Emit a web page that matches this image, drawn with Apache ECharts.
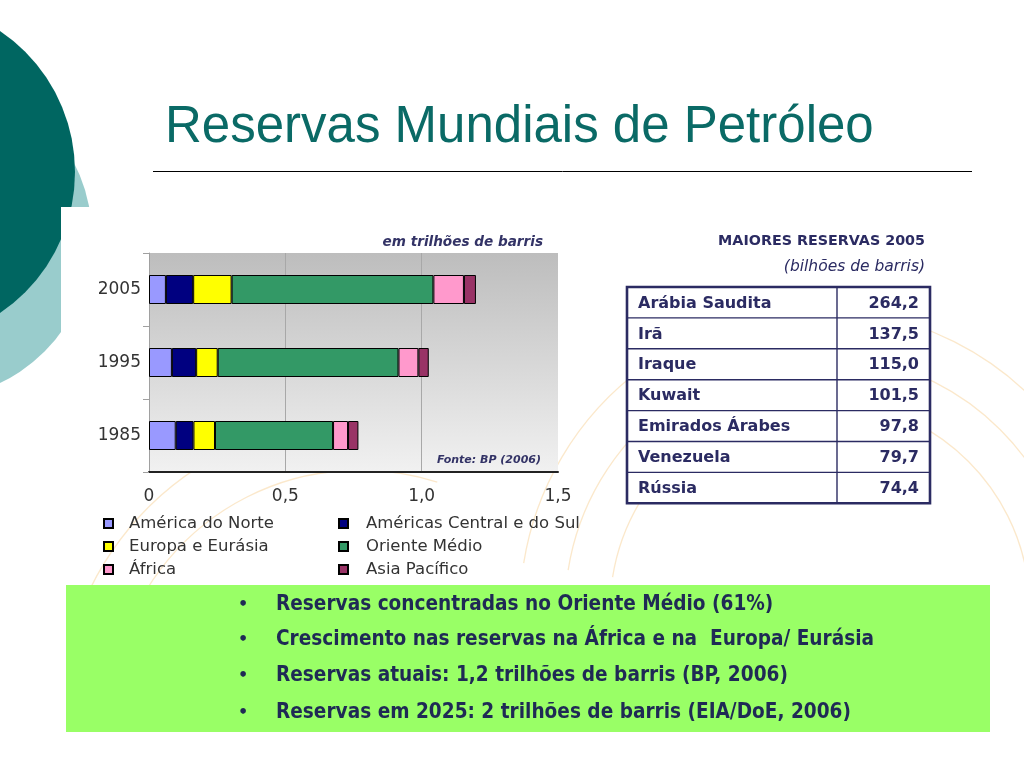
<!DOCTYPE html>
<html>
<head>
<meta charset="utf-8">
<script src="https://cdn.jsdelivr.net/npm/echarts@6/dist/echarts.min.js"></script>
<style>
html,body{margin:0;padding:0;background:#fff;}
#main{width:1024px;height:768px;}
</style>
</head>
<body>
<div id="main"></div>
<script>
// ---- data ----
const years = ['1985', '1995', '2005'];
const regions = ['América do Norte', 'Américas Central e do Sul', 'Europa e Eurásia', 'Oriente Médio', 'África', 'Asia Pacífico'];
// trilhões de barris, per year [1985, 1995, 2005]
const americaNorte = [0.098, 0.084, 0.062];
const americasCentralSul = [0.065, 0.089, 0.100];
const europaEurasia = [0.079, 0.079, 0.141];
const orienteMedio = [0.433, 0.663, 0.740];
const africa = [0.055, 0.073, 0.112];
const asiaPacifico = [0.038, 0.038, 0.044];
const xTicks = [0, 0.5, 1.0, 1.5];
const tableCountries = ['Arábia Saudita', 'Irã', 'Iraque', 'Kuwait', 'Emirados Árabes', 'Venezuela', 'Rússia'];
const tableValues = [264.2, 137.5, 115.0, 101.5, 97.8, 79.7, 74.4];
const bullets = [
  'Reservas concentradas no Oriente Médio (61%)',
  'Crescimento nas reservas na África e na  Europa/ Eurásia',
  'Reservas atuais: 1,2 trilhões de barris (BP, 2006)',
  'Reservas em 2025: 2 trilhões de barris (EIA/DoE, 2006)'
];

const seriesValues = [americaNorte, americasCentralSul, europaEurasia, orienteMedio, africa, asiaPacifico];
const palette = ['#9999FF', '#000080', '#FFFF00', '#339966', '#FF99CC', '#993366'];

const navy = '#2b2b62';
const graphics = [];

// decorative faint arcs
const arcStroke = 'rgba(246,205,140,0.45)';
[[820, 610, 300], [820, 610, 255], [820, 610, 210]].forEach(a => {
  graphics.push({type: 'arc', z: -10, shape: {cx: a[0], cy: a[1], r: a[2], startAngle: Math.PI * 1.05, endAngle: Math.PI * 1.95}, style: {stroke: arcStroke, fill: null, lineWidth: 1.3}});
});
[[360, 720, 300], [360, 720, 250]].forEach(a => {
  graphics.push({type: 'arc', z: -10, shape: {cx: a[0], cy: a[1], r: a[2], startAngle: Math.PI * 1.1, endAngle: Math.PI * 1.6}, style: {stroke: arcStroke, fill: null, lineWidth: 1.3}});
});

// left decoration
graphics.push({type: 'circle', z: -5, shape: {cx: -70, cy: 237, r: 162}, style: {fill: '#99CCCC'}});
graphics.push({type: 'circle', z: -4, shape: {cx: -95, cy: 172, r: 170}, style: {fill: '#006661'}});
graphics.push({type: 'rect', z: -3, shape: {x: 61, y: 207, width: 35, height: 260}, style: {fill: '#ffffff'}});

// title
graphics.push({type: 'text', x: 165, y: 128, style: {text: 'Reservas Mundiais de Petróleo', font: '51px "Liberation Sans", Arial, sans-serif', fill: '#0a6a66', align: 'left', verticalAlign: 'middle'}});
graphics.push({type: 'line', shape: {x1: 153, y1: 171.5, x2: 972, y2: 171.5}, style: {stroke: '#000', lineWidth: 1}});

// chart annotations
graphics.push({type: 'text', x: 543, y: 242, style: {text: 'em trilhões de barris', font: 'italic bold 13.6px "DejaVu Sans", sans-serif', fill: '#333366', align: 'right', verticalAlign: 'middle'}});
graphics.push({type: 'text', x: 541, y: 460, z: 10, style: {text: 'Fonte: BP (2006)', font: 'italic bold 11px "DejaVu Sans", sans-serif', fill: '#333366', align: 'right', verticalAlign: 'middle'}});

// table
graphics.push({type: 'text', x: 925, y: 241, style: {text: 'MAIORES RESERVAS 2005', font: 'bold 14.3px "DejaVu Sans", sans-serif', fill: navy, align: 'right', verticalAlign: 'middle'}});
graphics.push({type: 'text', x: 925, y: 267, style: {text: '(bilhões de barris)', font: 'italic 15.5px "DejaVu Sans", sans-serif', fill: navy, align: 'right', verticalAlign: 'middle'}});
const tX0 = 627, tX1 = 930, tXc = 837, tY0 = 287, rowH = 30.9;
graphics.push({type: 'rect', shape: {x: tX0, y: tY0, width: tX1 - tX0, height: rowH * tableCountries.length}, style: {fill: '#fff', stroke: navy, lineWidth: 2.6}});
graphics.push({type: 'line', shape: {x1: tXc, y1: tY0, x2: tXc, y2: tY0 + rowH * tableCountries.length}, style: {stroke: navy, lineWidth: 1.4}});
tableCountries.forEach((c, i) => {
  if (i > 0) graphics.push({type: 'line', shape: {x1: tX0, y1: tY0 + rowH * i, x2: tX1, y2: tY0 + rowH * i}, style: {stroke: navy, lineWidth: 1.4}});
  const cy = tY0 + rowH * i + rowH / 2 + 1;
  graphics.push({type: 'text', x: 638, y: cy, style: {text: c, font: 'bold 16px "DejaVu Sans", sans-serif', fill: navy, align: 'left', verticalAlign: 'middle'}});
  graphics.push({type: 'text', x: 919, y: cy, style: {text: tableValues[i].toFixed(1).replace('.', ','), font: 'bold 16px "DejaVu Sans", sans-serif', fill: navy, align: 'right', verticalAlign: 'middle'}});
});

// green box
graphics.push({type: 'rect', shape: {x: 66, y: 585, width: 924, height: 147}, style: {fill: '#99FF66'}});
const bulletY = [605, 640, 676, 713];
bullets.forEach((b, i) => {
  graphics.push({type: 'text', x: 243, y: bulletY[i], style: {text: '•', font: 'bold 16px "DejaVu Sans", sans-serif', fill: '#1f2a55', align: 'center', verticalAlign: 'middle'}});
  graphics.push({type: 'text', x: 276, y: bulletY[i], style: {text: b, font: 'bold 20.6px "DejaVu Sans Condensed", "DejaVu Sans", sans-serif', fill: '#1f2a55', align: 'left', verticalAlign: 'middle'}});
});

const chart = echarts.init(document.getElementById('main'));
const option = {
  animation: false,
  backgroundColor: '#ffffff',
  grid: {
    left: 149, top: 253, width: 409, height: 219,
    show: true, borderWidth: 0,
    backgroundColor: {type: 'linear', x: 0, y: 0, x2: 0, y2: 1, colorStops: [{offset: 0, color: '#bdbdbd'}, {offset: 1, color: '#f1f1f1'}]}
  },
  legend: [
    {
      data: [regions[0], regions[2], regions[4]],
      orient: 'vertical', left: 98, top: 510, itemWidth: 9, itemHeight: 9, itemGap: 6, icon: 'rect',
      textStyle: {fontFamily: 'DejaVu Sans', fontSize: 16.5, color: '#333', lineHeight: 16, padding: [0, 0, 0, 11]}
    },
    {
      data: [regions[1], regions[3], regions[5]],
      orient: 'vertical', left: 333, top: 510, itemWidth: 9, itemHeight: 9, itemGap: 6, icon: 'rect',
      textStyle: {fontFamily: 'DejaVu Sans', fontSize: 16.5, color: '#333', lineHeight: 16, padding: [0, 0, 0, 13]}
    }
  ],
  xAxis: {
    type: 'value', min: xTicks[0], max: xTicks[xTicks.length - 1], interval: 0.5,
    axisLine: {show: true, lineStyle: {color: '#222', width: 2}},
    axisTick: {show: false},
    splitLine: {show: true, lineStyle: {color: ['#a8a8a8', '#a8a8a8', '#a8a8a8', 'rgba(0,0,0,0)'], width: 1}},
    axisLabel: {
      margin: 16, color: '#333', fontFamily: 'DejaVu Sans', fontSize: 17,
      formatter: v => v === 0 ? '0' : v.toFixed(1).replace('.', ',')
    }
  },
  yAxis: {
    type: 'category', data: years,
    axisLine: {show: true, lineStyle: {color: '#a0a0a0', width: 1}},
    axisTick: {show: true, length: 6, lineStyle: {color: '#a0a0a0'}},
    axisLabel: {margin: 8, color: '#333', fontFamily: 'DejaVu Sans', fontSize: 17}
  },
  series: regions.map((r, i) => ({
    name: r, type: 'bar', stack: 'total', barWidth: 29,
    data: seriesValues[i],
    itemStyle: {color: palette[i], borderColor: '#000', borderWidth: 1},
    emphasis: {disabled: true}
  })),
  graphic: graphics
};
chart.setOption(option);
</script>
</body>
</html>
